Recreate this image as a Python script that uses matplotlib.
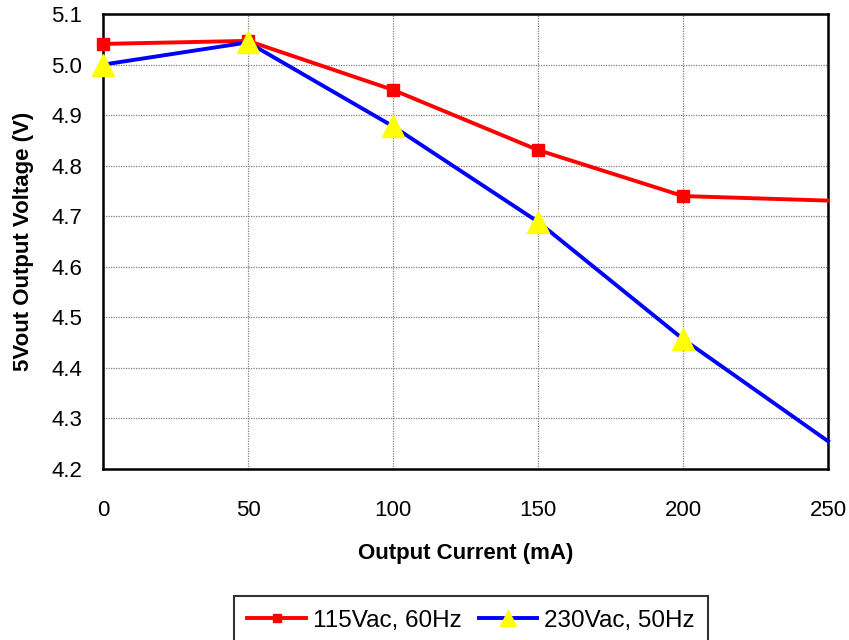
import matplotlib
matplotlib.use("Agg")
import matplotlib.pyplot as plt

current = [0, 50, 100, 150, 200, 250]
v115 = [5.041, 5.047, 4.950, 4.831, 4.740, 4.731]
v230 = [5.000, 5.044, 4.878, 4.689, 4.457, 4.255]
labels = ["115Vac, 60Hz", "230Vac, 50Hz"]
xticks = [0, 50, 100, 150, 200, 250]
yticks = [4.2, 4.3, 4.4, 4.5, 4.6, 4.7, 4.8, 4.9, 5.0, 5.1]

plt.rcParams['font.family'] = ['Liberation Sans', 'DejaVu Sans']

fig = plt.figure(figsize=(8.49, 6.40), dpi=100)
ax = fig.add_axes([0.1213, 0.2672, 0.854, 0.7108])

ax.plot(current, v115, color='#ff0000', lw=2.8, marker='s', ms=8,
        markevery=list(range(5)), label=labels[0], zorder=3, clip_on=False)
ax.plot(current, v230, color='#0000ff', lw=2.8, marker='^', ms=16,
        markerfacecolor='#ffff00', markeredgecolor='#ffff00',
        markevery=list(range(5)), label=labels[1], zorder=4, clip_on=False)

ax.set_xlim(0, 250)
ax.set_ylim(4.2, 5.1)
ax.set_xticks(xticks)
ax.set_yticks(yticks)
ax.set_yticklabels([f"{v:.1f}" for v in yticks])
ax.tick_params(axis='both', labelsize=16, length=0)
ax.tick_params(axis='x', pad=22)
ax.tick_params(axis='y', pad=15)
ax.grid(True, color='#808080', linestyle=(0, (1, 1)), lw=0.9)
for s in ax.spines.values():
    s.set_linewidth(1.8)
    s.set_color('black')

ax.set_xlabel("Output Current (mA)", fontsize=16, fontweight='bold', labelpad=16)
ax.set_ylabel("5Vout Output Voltage (V)", fontsize=16, fontweight='bold', labelpad=12)

leg = fig.legend(loc='upper center', bbox_to_anchor=(0.555, 0.068), ncol=2,
                 fontsize=17.5, frameon=True, fancybox=False, edgecolor='black',
                 handlelength=2.4, handletextpad=0.3, columnspacing=0.7,
                 borderpad=0.55, borderaxespad=0, markerscale=0.75)
leg.get_frame().set_linewidth(1.5)

fig.savefig("out.png", dpi=100)
